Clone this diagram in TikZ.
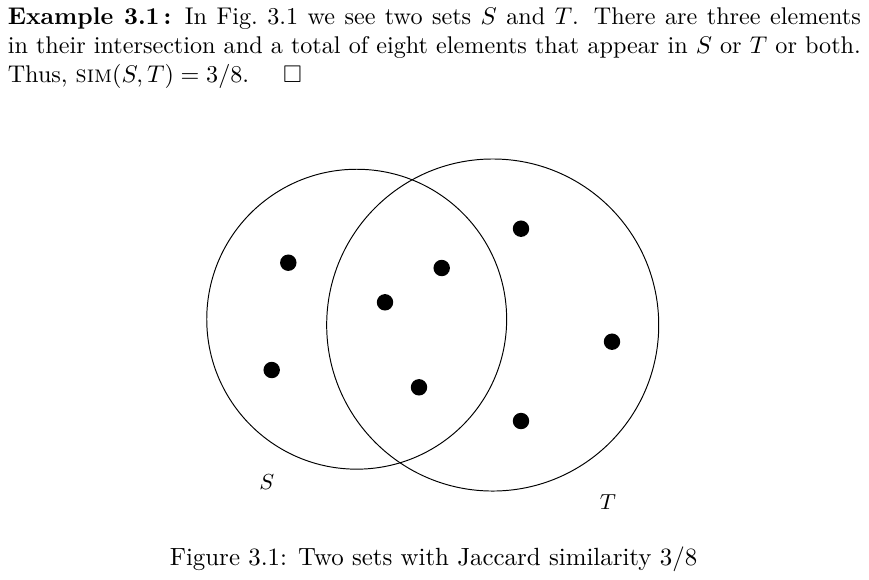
\documentclass[tikz,border=0pt]{standalone}
\usepackage{amssymb}
\usetikzlibrary{positioning}

\begin{document}
\begin{tikzpicture}[
    x=0.4138pt, y=-0.4138pt,
    set/.style={circle, draw=black, line width=0.4pt, inner sep=0pt},
    elem/.style={circle, fill=black, inner sep=0pt, minimum size=6.8pt},
    setname/.style={font=\small, inner sep=0pt},
    para/.style={anchor=north west, inner sep=0pt, text width=353pt, align=justify},
    caption/.style={anchor=base west, inner sep=0pt, font=\fontsize{10.3pt}{12pt}\selectfont}
]
\useasboundingbox (0,0) rectangle (869,579);

% Text above the figure
\node[para] (example) at (7.3,7.5) {\textbf{Example 3.1\,:} In Fig.~3.1 we see two sets $S$ and $T$. There are three elements\linebreak
in their intersection and a total of eight elements that appear in $S$ or $T$ or both.\linebreak
Thus, \textsc{sim}$(S,T) = 3/8$.\hspace{1.4em}$\Box$};

% Sets
\node[set, minimum size=124.1pt] (S) at (356.7,319.2) {};
\node[set, minimum size=137.4pt] (T) at (492.7,325) {};

% Elements
\node[elem] (s1) at (288.3,262.7) {};
\node[elem] (s2) at (271.7,370) {};
\node[elem] (st1) at (385,302.3) {};
\node[elem] (st2) at (441.7,268) {};
\node[elem] (st3) at (419,387.3) {};
\node[elem] (t1) at (521,228.7) {};
\node[elem] (t2) at (612,341.7) {};
\node[elem] (t3) at (521,421) {};

% Set names
\node[setname] (Sname) at (266.7,481.7) {$S$};
\node[setname] (Tname) at (608,501.7) {$T$};

% Caption
\node[caption] (cap) at (169.3,565) {Figure 3.1: Two sets with Jaccard similarity 3/8};

\end{tikzpicture}
\end{document}
